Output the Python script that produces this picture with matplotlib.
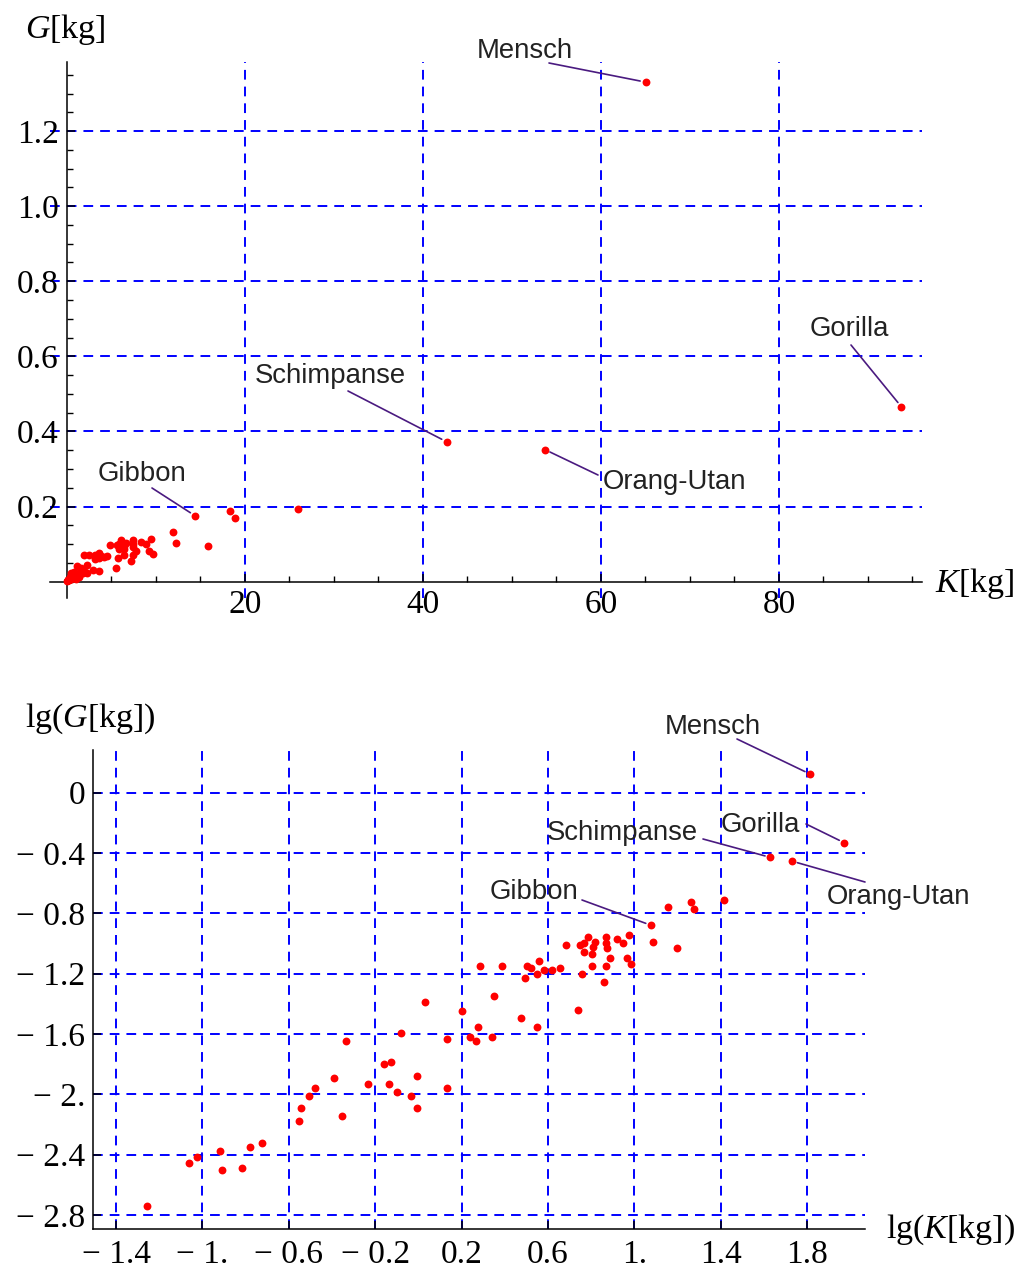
import matplotlib
matplotlib.use('Agg')
import matplotlib.pyplot as plt
import numpy as np
from matplotlib.ticker import MultipleLocator

plt.rcParams['font.family'] = ['Liberation Serif', 'DejaVu Serif']
plt.rcParams['mathtext.fontset'] = 'custom'
plt.rcParams['mathtext.rm'] = 'Liberation Serif'
plt.rcParams['mathtext.it'] = 'Liberation Serif:italic'

# ---------------- data (log10 of body mass K and brain mass G, kg) ----------------
lgK = [-1.258, -1.061, -1.023, -0.917, -0.910, -0.815, -0.778, -0.722, -0.554, -0.545,
       -0.506, -0.477, -0.392, -0.353, -0.336, -0.234, -0.158, -0.129, -0.138, -0.101,
       -0.081, -0.034, -0.007, -0.007, 0.032, 0.134, 0.134, 0.202, 0.237, 0.267,
       0.275, 0.342, 0.351, 0.283, 0.387, 0.473, 0.493, 0.503, 0.521, 0.549,
       0.549, 0.560, 0.580, 0.617, 0.654, 0.682, 0.738, 0.750, 0.758, 0.768,
       0.784, 0.765, 0.807, 0.820, 0.804, 0.805, 0.858, 0.870, 0.869, 0.871,
       0.889, 0.869, 0.918, 0.946, 0.974, 0.964, 0.983, 1.077, 1.087, 1.199,
       1.158, 1.264, 1.276, 1.415]
lgG = [-2.741, -2.457, -2.415, -2.377, -2.500, -2.486, -2.351, -2.322, -2.176, -2.094,
       -2.011, -1.958, -1.892, -2.147, -1.648, -1.932, -1.799, -1.783, -1.932, -1.985,
       -1.595, -2.011, -1.876, -2.094, -1.391, -1.635, -1.958, -1.446, -1.621, -1.648,
       -1.553, -1.621, -1.351, -1.149, -1.149, -1.497, -1.229, -1.149, -1.160, -1.553,
       -1.200, -1.118, -1.173, -1.178, -1.160, -1.012, -1.444, -1.012, -1.200, -0.998,
       -0.960, -1.056, -1.025, -0.990, -1.067, -1.150, -1.256, -0.956, -1.000, -1.030,
       -1.096, -1.151, -0.973, -1.000, -0.946, -1.093, -1.135, -0.879, -0.987, -1.027,
       -0.756, -0.727, -0.770, -0.714]

ape_names = ['Mensch', 'Gorilla', 'Schimpanse', 'Orang-Utan']
ape_lgK = [1.813, 1.972, 1.630, 1.730]
ape_lgG = [0.124, -0.332, -0.429, -0.454]

gibbon_top_idx = 70      # point the "Gibbon" callout points to in the linear plot
gibbon_bot_idx = 67      # point the "Gibbon" callout points to in the log plot

top_xticks = [20, 40, 60, 80]
top_xtick_labels = ['20', '40', '60', '80']
top_yticks = [0.2, 0.4, 0.6, 0.8, 1.0, 1.2]
top_ytick_labels = ['0.2', '0.4', '0.6', '0.8', '1.0', '1.2']
bot_xticks = [-1.4, -1.0, -0.6, -0.2, 0.2, 0.6, 1.0, 1.4, 1.8]
bot_xtick_labels = ['\u2212 1.4', '\u2212 1.', '\u2212 0.6', '\u2212 0.2', '0.2', '0.6', '1.', '1.4', '1.8']
bot_yticks = [0.0, -0.4, -0.8, -1.2, -1.6, -2.0, -2.4, -2.8]
bot_ytick_labels = ['0', '\u2212 0.4', '\u2212 0.8', '\u2212 1.2', '\u2212 1.6', '\u2212 2.', '\u2212 2.4', '\u2212 2.8']

# ---------------- figure ----------------
W, H = 1026, 1268
fig = plt.figure(figsize=(W / 100, H / 100), dpi=100)

def fpx(x, y):
    return (x, H - y)

grid_kw = dict(color='#0000ff', lw=1.4, linestyle=(0, (5, 3.6)))
lead_col = '#4a1a80'
lab_col = '#222222'
lab_font = dict(family='Liberation Sans', fontsize=19.8, color=lab_col)
dot_kw = dict(s=32, color='#ff0000', linewidths=0, zorder=3, clip_on=False)

# ---------- top: linear ----------
ax1 = fig.add_axes([50 / W, (H - 598) / H, (922 - 50) / W, (598 - 62) / H])
K_all = 10 ** np.array(lgK + ape_lgK)
G_all = 10 ** np.array(lgG + ape_lgG)
ax1.scatter(K_all, G_all, **dot_kw)
ax1.set_xlim(-1.91, 96.07)
ax1.set_ylim(-0.0437, 1.384)
for s in ['top', 'right']:
    ax1.spines[s].set_visible(False)
ax1.spines['left'].set_position(('data', 0))
ax1.spines['bottom'].set_position(('data', 0))
for s in ['left', 'bottom']:
    ax1.spines[s].set_linewidth(1.1)
ax1.set_xticks(top_xticks, top_xtick_labels)
ax1.set_yticks(top_yticks, top_ytick_labels)
ax1.xaxis.set_minor_locator(MultipleLocator(5))
ax1.yaxis.set_minor_locator(MultipleLocator(0.05))
ax1.tick_params(which='major', direction='in', length=6, width=1.1, labelsize=24, pad=6)
ax1.tick_params(which='minor', direction='in', length=4, width=1.0)
ax1.grid(True, which='major', **grid_kw)
ax1.set_axisbelow(True)

fig.text(25 / W, 1 - 38 / H, '$G$[kg]', fontsize=24.5, ha='left', va='baseline')
fig.text(935 / W, 1 - 592 / H, '$K$[kg]', fontsize=24.5, ha='left', va='baseline')

top_text = {'Mensch': (477, 58), 'Gorilla': (810, 336), 'Schimpanse': (255, 383),
            'Orang-Utan': (603, 489)}
top_lead = {'Mensch': (549, 63), 'Gorilla': (851, 345), 'Schimpanse': (348, 391),
            'Orang-Utan': (598, 475)}
for i, name in enumerate(ape_names):
    tx, ty = top_text[name]
    fig.text(tx / W, 1 - ty / H, name, ha='left', va='baseline', **lab_font)
    ax1.annotate('', xy=(10 ** ape_lgK[i], 10 ** ape_lgG[i]), xycoords='data',
                 xytext=fpx(*top_lead[name]), textcoords='figure pixels',
                 arrowprops=dict(arrowstyle='-', color=lead_col, lw=1.2, shrinkA=0, shrinkB=4))
fig.text(98 / W, 1 - 481 / H, 'Gibbon', ha='left', va='baseline', **lab_font)
ax1.annotate('', xy=(10 ** lgK[gibbon_top_idx], 10 ** lgG[gibbon_top_idx]), xycoords='data',
             xytext=fpx(152, 488), textcoords='figure pixels',
             arrowprops=dict(arrowstyle='-', color=lead_col, lw=1.2, shrinkA=0, shrinkB=4))

# ---------- bottom: log-log ----------
ax2 = fig.add_axes([93.4 / W, (H - 1229.3) / H, (865 - 93.4) / W, (1229.3 - 750) / H])
ax2.scatter(lgK + ape_lgK, lgG + ape_lgG, **dot_kw)
ax2.set_xlim(-1.505, 2.068)
ax2.set_ylim(-2.895, 0.283)
for s in ['top', 'right']:
    ax2.spines[s].set_visible(False)
for s in ['left', 'bottom']:
    ax2.spines[s].set_linewidth(1.1)
ax2.set_xticks(bot_xticks, bot_xtick_labels)
ax2.set_yticks(bot_yticks, bot_ytick_labels)
ax2.tick_params(which='major', direction='in', length=6, width=1.1, labelsize=24, pad=6)
ax2.tick_params(axis='x', pad=7)
ax2.grid(True, which='major', **grid_kw)
ax2.set_axisbelow(True)

fig.text(25 / W, 1 - 727 / H, 'lg($G$[kg])', fontsize=24.5, ha='left', va='baseline')
fig.text(886 / W, 1 - 1238 / H, 'lg($K$[kg])', fontsize=24.5, ha='left', va='baseline')

bot_text = {'Mensch': (665, 734), 'Gorilla': (721, 832), 'Schimpanse': (547, 840),
            'Orang-Utan': (827, 904)}
bot_lead = {'Mensch': (737, 739), 'Gorilla': (806, 824), 'Schimpanse': (703, 839),
            'Orang-Utan': (865, 882)}
for i, name in enumerate(ape_names):
    tx, ty = bot_text[name]
    fig.text(tx / W, 1 - ty / H, name, ha='left', va='baseline', **lab_font)
    ax2.annotate('', xy=(ape_lgK[i], ape_lgG[i]), xycoords='data',
                 xytext=fpx(*bot_lead[name]), textcoords='figure pixels',
                 arrowprops=dict(arrowstyle='-', color=lead_col, lw=1.2, shrinkA=0, shrinkB=4))
fig.text(490 / W, 1 - 899 / H, 'Gibbon', ha='left', va='baseline', **lab_font)
ax2.annotate('', xy=(lgK[gibbon_bot_idx], lgG[gibbon_bot_idx]), xycoords='data',
             xytext=fpx(582, 900), textcoords='figure pixels',
             arrowprops=dict(arrowstyle='-', color=lead_col, lw=1.2, shrinkA=0, shrinkB=4))

fig.savefig('out.png', dpi=100)
